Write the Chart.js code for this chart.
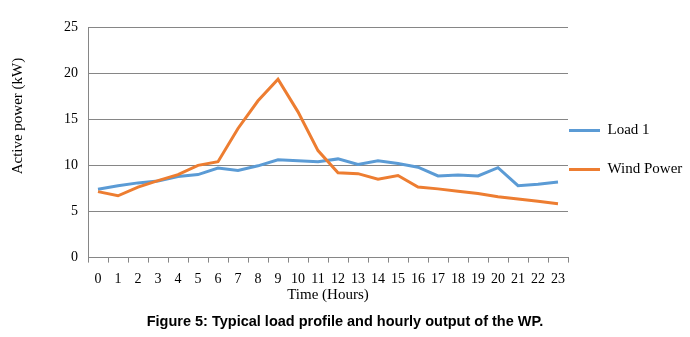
<!DOCTYPE html>
<html>
<head>
<meta charset="utf-8">
<script src="https://cdn.jsdelivr.net/npm/chart.js@4/dist/chart.umd.min.js"></script>
<style>
  html, body { margin: 0; padding: 0; background: #fff; }
  #wrap { width: 690px; height: 337px; }
</style>
</head>
<body>
<div id="wrap"><canvas id="chart"></canvas></div>
<script>
// hours on the x axis
const hours = ['0','1','2','3','4','5','6','7','8','9','10','11','12','13','14','15','16','17','18','19','20','21','22','23'];
// kW
const load1 = [7.4, 7.8, 8.1, 8.3, 8.8, 9.0, 9.7, 9.45, 9.95, 10.6, 10.5, 10.4, 10.7, 10.1, 10.5, 10.2, 9.8, 8.85, 8.95, 8.85, 9.75, 7.8, 7.95, 8.2];
const windPower = [7.15, 6.7, 7.65, 8.35, 9.0, 10.0, 10.4, 14.0, 17.0, 19.35, 15.8, 11.6, 9.2, 9.1, 8.5, 8.9, 7.65, 7.45, 7.2, 6.95, 6.6, 6.35, 6.1, 5.85];
const yTicks = [0, 5, 10, 15, 20, 25];

const gridGray = '#868686';
const serif = 'Liberation Serif';

let ctx = document.getElementById('chart');
let chart = new Chart(ctx, {
    type: 'line',
    data: {
        labels: hours,
        datasets: [{
            label: 'Load 1',
            data: load1,
            borderColor: '#5B9BD5',
            backgroundColor: '#5B9BD5',
            borderWidth: 3,
            pointRadius: 0,
            tension: 0,
            order: 1
        }, {
            label: 'Wind Power',
            data: windPower,
            borderColor: '#ED7D31',
            backgroundColor: '#ED7D31',
            borderWidth: 3,
            pointRadius: 0,
            tension: 0,
            order: 0
        }]
    },
    options: {
        responsive: true,
        maintainAspectRatio: false,
        animation: false,
        layout: {
            padding: {top: 27, left: 0, right: 0, bottom: 0}
        },
        scales: {
            x: {
                offset: true,
                grid: {
                    display: true,
                    drawOnChartArea: false,
                    offset: true,
                    tickLength: 5,
                    color: gridGray
                },
                border: {color: gridGray},
                ticks: {
                    color: '#000',
                    font: {family: serif, size: 14},
                    padding: 8,
                    maxRotation: 0,
                    autoSkip: false
                },
                title: {
                    display: true,
                    text: 'Time (Hours)',
                    color: '#000',
                    font: {family: serif, size: 15},
                    padding: {top: 0, bottom: 4}
                },
                afterFit: (scale) => { scale.height = 50; }
            },
            y: {
                min: 0,
                max: 25,
                afterBuildTicks: (scale) => { scale.ticks = yTicks.map(v => ({value: v})); },
                grid: {
                    color: gridGray,
                    drawTicks: false
                },
                border: {color: gridGray},
                ticks: {
                    color: '#000',
                    font: {family: serif, size: 14},
                    padding: 10
                },
                title: {
                    display: true,
                    // leading spaces lift the label like in the original
                    text: '              Active power (kW)',
                    color: '#000',
                    font: {family: serif, size: 15},
                    padding: {top: 9, bottom: 0}
                },
                afterFit: (scale) => { scale.width = 88; }
            }
        },
        plugins: {
            legend: {
                position: 'right',
                align: 'start',
                maxWidth: 122,
                title: {
                    display: true,
                    text: ' ',
                    font: {size: 10},
                    padding: {top: 83, bottom: 0}
                },
                labels: {
                    usePointStyle: true,
                    pointStyle: 'line',
                    pointStyleWidth: 31,
                    padding: 1,
                    color: '#000',
                    font: {family: serif, size: 15, lineHeight: '38px'},
                    sort: (a, b) => a.datasetIndex - b.datasetIndex,
                    generateLabels: (c) => {
                        let items = Chart.defaults.plugins.legend.labels.generateLabels(c);
                        items.forEach((it) => { it.text = [it.text]; });
                        return items;
                    }
                }
            },
            tooltip: {enabled: false},
            title: {
                display: true,
                position: 'bottom',
                text: 'Figure 5: Typical load profile and hourly output of the WP.',
                color: '#000',
                font: {family: 'Liberation Sans', size: 14.5, weight: 'bold'},
                padding: {top: 6, bottom: 6}
            }
        }
    }
});
</script>
</body>
</html>
